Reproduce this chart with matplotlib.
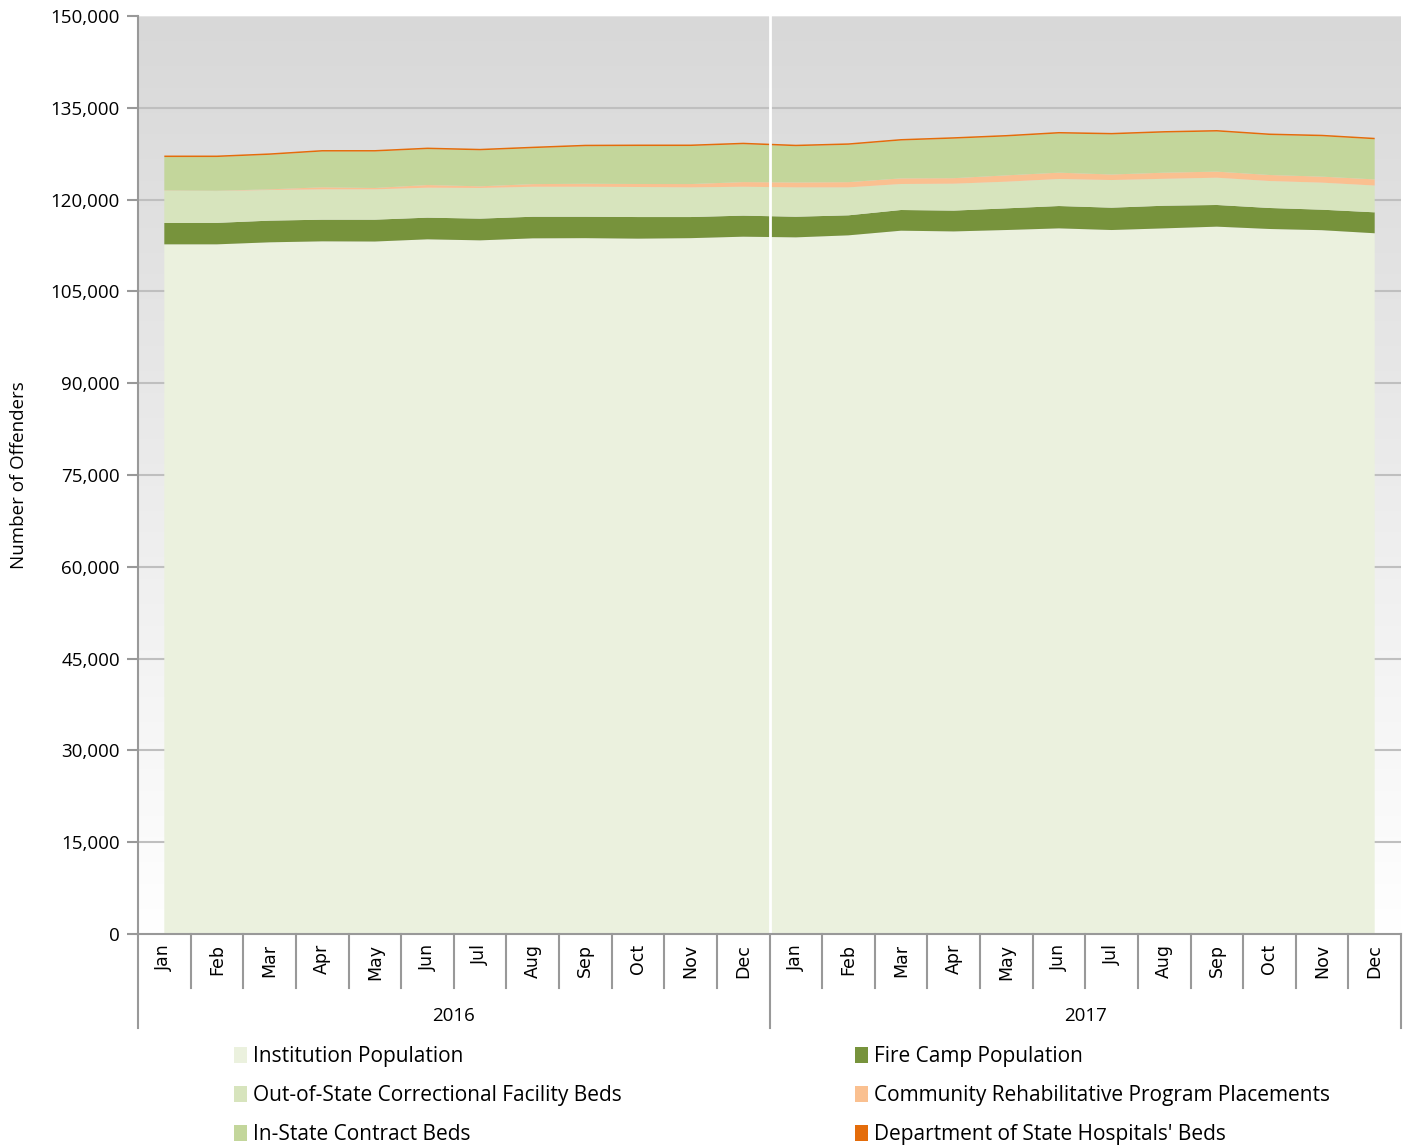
import numpy as np
import matplotlib
matplotlib.use('Agg')
import matplotlib.pyplot as plt
from matplotlib.patches import Patch
import matplotlib.ticker as ticker

plt.rcParams['font.family'] = ['Open Sans', 'DejaVu Sans']

months = ['Jan', 'Feb', 'Mar', 'Apr', 'May', 'Jun', 'Jul', 'Aug', 'Sep', 'Oct', 'Nov', 'Dec']
years = ['2016', '2017']

# monthly population by housing type, 2016 then 2017
institution = [112690, 112690, 113020, 113180, 113150, 113510, 113340, 113670, 113700, 113620, 113700, 113940,
               113830, 114160, 114920, 114800, 115030, 115300, 115030, 115300, 115580, 115200, 115000, 114500]
fire_camp = [3490, 3510, 3540, 3540, 3570, 3540, 3550, 3530, 3500, 3530, 3450, 3440,
             3370, 3270, 3380, 3400, 3540, 3650, 3650, 3700, 3540, 3430, 3350, 3420]
out_of_state = [5280, 5200, 5010, 4960, 4960, 4900, 5010, 4900, 4900, 4910, 4850, 4720,
                4800, 4570, 4250, 4400, 4360, 4420, 4520, 4400, 4460, 4410, 4420, 4380]
crpp = [50, 50, 110, 330, 220, 430, 270, 430, 490, 490, 540, 760,
        800, 850, 920, 900, 1030, 1030, 900, 1000, 990, 980, 980, 1000]
in_state = [5440, 5500, 5630, 5840, 5950, 5870, 5880, 5870, 6130, 6200, 6210, 6190,
            5920, 6100, 6180, 6450, 6350, 6400, 6550, 6550, 6550, 6530, 6600, 6550]
dsh = [250] * 24

series_names = ['Institution Population', 'Fire Camp Population',
                'Out-of-State Correctional Facility Beds', 'Community Rehabilitative Program Placements',
                'In-State Contract Beds', "Department of State Hospitals' Beds"]
colors = ['#ebf1de', '#77933c', '#d7e4bd', '#fac090', '#c3d69b', '#e46c0a']

W, H = 1407, 1145
fig = plt.figure(figsize=(W / 100, H / 100), dpi=100)
L, R, T, B = 138, 1401, 16, 934
ax = fig.add_axes([L / W, 1 - B / H, (R - L) / W, (B - T) / H])

x = np.arange(24)
ax.set_xlim(-0.5, 23.5)
ax.set_ylim(0, 150000)

# white at the bottom fading to grey at the top
grad = np.linspace(0, 1, 256).reshape(-1, 1)
bg = matplotlib.colors.LinearSegmentedColormap.from_list('bg', ['#ffffff', '#d8d8d8'])
ax.imshow(grad, cmap=bg, aspect='auto', extent=(-0.5, 23.5, 0, 150000), origin='lower', zorder=0)

for yv in range(15000, 150001, 15000):
    ax.axhline(yv, color='#bfbfbf' if yv < 150000 else '#e4e4e4', lw=1.5, zorder=1)

ax.stackplot(x, institution, fire_camp, out_of_state, crpp, in_state, dsh,
             colors=colors, zorder=2, linewidth=0)

# year divider
ax.axvline(11.5, color='white', lw=2, zorder=3)

for s in ['top', 'right', 'bottom']:
    ax.spines[s].set_visible(False)
ax.spines['left'].set_color('#999999')
ax.spines['left'].set_linewidth(1.5)

ax.yaxis.set_major_locator(ticker.MultipleLocator(15000))
ax.yaxis.set_major_formatter(ticker.FuncFormatter(lambda v, p: f'{int(v):,}'))
ax.tick_params(axis='y', length=8, width=1.5, color='#999999', labelsize=13.5, pad=5)
ax.set_xticks([])
ax.set_ylabel('Number of Offenders', fontsize=13.5, labelpad=16)

# category axis: months and years underneath
trans = ax.get_xaxis_transform()
ax.plot([-0.5, 23.5], [0, 0], color='#999999', lw=1.5, clip_on=False, zorder=4)
px = 1.0 / (B - T)
for i in range(25):
    depth = 94 if i in (0, 12, 24) else 54
    ax.plot([i - 0.5, i - 0.5], [0, -depth * px], transform=trans, color='#999999', lw=1.5,
            clip_on=False)
for i in range(24):
    ax.text(i, -10 * px, months[i % 12], transform=trans, rotation=90, ha='center', va='top',
            fontsize=12.5, family='DejaVu Sans')
for k, yr in enumerate(years):
    ax.text(5.5 + 12 * k, -82 * px, yr, transform=trans, ha='center', va='center', fontsize=13.5)

# legend, row by row
handles = [Patch(facecolor=c, edgecolor='none') for c in colors]
order = [0, 2, 4, 1, 3, 5]
fig.legend([handles[i] for i in order], [series_names[i] for i in order], ncol=2,
           loc='upper left', bbox_to_anchor=(226 / W, 1 - 1038 / H), frameon=False,
           fontsize=15, handlelength=0.6, handleheight=0.8, handletextpad=0.3,
           columnspacing=11.2, labelspacing=0.86, borderaxespad=0)

fig.savefig('out.png', dpi=100)
